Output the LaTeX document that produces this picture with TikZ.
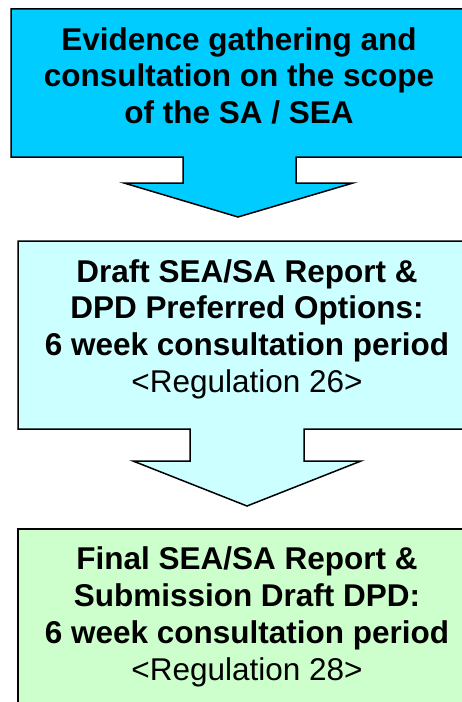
\documentclass[tikz,border=0pt]{standalone}
\usepackage{fontspec}
\setmainfont{Liberation Sans}
\usetikzlibrary{positioning}

\definecolor{scopeblue}{HTML}{00CCFF}
\definecolor{draftblue}{HTML}{CCFFFF}
\definecolor{finalgreen}{HTML}{CCFFCC}

\begin{document}
\begin{tikzpicture}[x=1bp, y=-1bp,
    stagebox/.style={draw=black, line width=1.5bp, line join=miter},
    stagetext/.style={align=center, inner sep=0pt, anchor=north,
        font=\fontsize{31.6}{37}\selectfont\bfseries}]
			% page size of the reference, pixels as bp
			\useasboundingbox (0,0) rectangle (462,702);
			\clip (0,0) rectangle (462,702);
			
			% Stage 1: box with arrow below it
			\draw[stagebox, fill=scopeblue]
				(11,9) -- (466,9) -- (466,157) -- (296,157) -- (296,183) -- (353,183)
				-- (238,217) -- (124,183) -- (183,183) -- (183,157) -- (11,157) -- cycle;
			
			% Stage 2
			\draw[stagebox, fill=draftblue]
				(18,241) -- (476,241) -- (476,429) -- (304,429) -- (304,461) -- (361,461)
				-- (247,506) -- (133,461) -- (190,461) -- (190,429) -- (18,429) -- cycle;
			
			% Stage 3 (runs off the page)
			\draw[stagebox, fill=finalgreen]
				(18,529) -- (476,529) -- (476,720) -- (18,720) -- cycle;
			
			% Labels
			\node[stagetext] (scope) at (239,27) {Evidence gathering and\\consultation on the scope\\of the SA / SEA};
			\node[stagetext] (draft) at (247,259) {Draft SEA/SA Report \&\\DPD Preferred Options:\\6 week consultation period\\{\mdseries <Regulation 26>}};
			\node[stagetext] (final) at (247,546.5) {Final SEA/SA Report \&\\Submission Draft DPD:\\6 week consultation period\\{\mdseries <Regulation 28>}};
			
		\end{tikzpicture}
\end{document}
